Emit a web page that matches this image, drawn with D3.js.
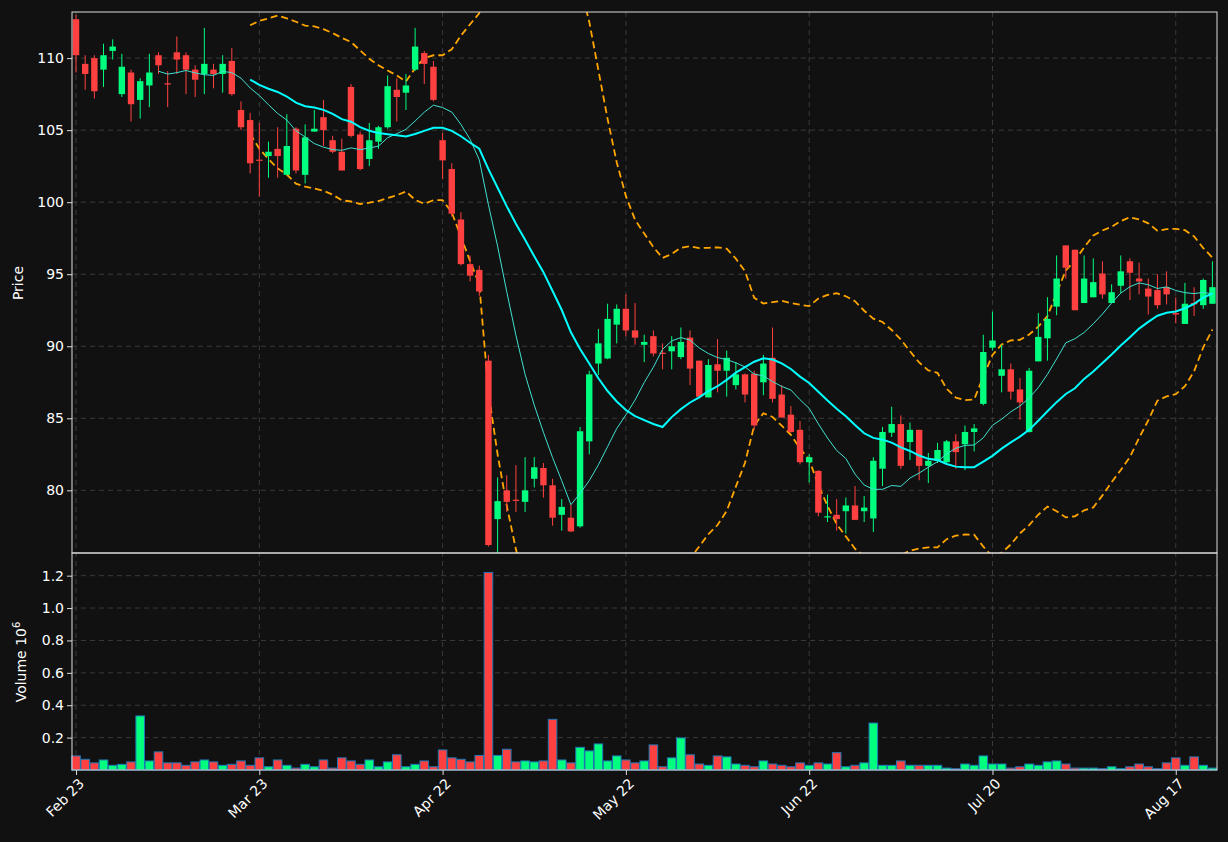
<!DOCTYPE html>
<html><head><meta charset="utf-8">
<script src="https://cdn.jsdelivr.net/npm/d3@7"></script>
<style>
body{margin:0;background:#111111;}
text{font-family:"DejaVu Sans",sans-serif;}
</style></head>
<body><svg id="chart" width="1228" height="842"></svg>
<script>
// OHLC, one row per trading day
var opens  = [112.7,109.6,110,109.2,110.5,107.5,109,107.1,108.1,110.2,108.25,110.4,110.2,109.2,108.9,109.2,108.9,109.8,106.4,105.7,
  102.95,103.2,103.7,101.9,105.1,101.9,104.9,105.9,104.3,103.5,108,104.7,103,104.2,105.2,107.8,107.6,109.2,110.35,109.4,
  104.3,102.3,98.8,95.7,95.3,89,78,80,79.35,79.2,80.8,81.55,80.35,78.3,78.1,77.5,83.4,88.8,89.15,91.5,
  92.6,91.1,90.1,90.7,89.55,89.65,89.25,90.6,89,86.45,88.75,88.3,87.3,88.05,88.1,87.5,89.2,86.65,85.25,84.2,
  81.95,81.35,78.15,78.3,78.55,78.95,78.55,78.05,81.5,84,84.6,83.35,84.2,81.7,82.05,81.95,83.4,83.2,84.05,86,
  89.9,87.95,88.4,87,84.05,88.95,90.55,92.75,97,96.7,93,93.4,95.05,93,94.2,95.9,94.7,94,93.9,94.1,
  92.3,91.55,93.0,92.85,92.95];
var highs  = [113,110.2,110.2,111,111.3,110.3,109.2,108.6,110.3,110.4,109.1,111.5,110.4,109.5,112.1,109.6,110.2,110.7,107,106.2,
  105.5,104.2,105.2,106.1,105.2,105.4,106.4,107.1,104.6,104.4,108.2,104.9,105.5,105.3,108.8,108.6,108.9,112.1,110.5,109.8,
  104.8,102.7,99.3,96.3,95.6,89.4,80.9,81.05,81.75,82.3,82.3,81.9,80.8,79.4,79,84.4,88.3,91.2,92.95,92.9,
  93.6,93,90.8,91.1,90.2,90.7,91.3,91.1,89,89.1,90.5,89.7,88.9,88.1,88.3,89.4,91.3,87.3,85.85,84.8,
  82.5,81.4,79.7,79.4,79.5,80.3,79.6,82.3,84.4,85.8,85.2,84.7,84.2,82.6,83.3,83.5,83.9,84.5,84.6,90.8,
  92.4,90.1,88.8,87.8,88.5,92.3,93.4,96.3,97,96.7,96.3,96.1,95.9,94.3,96.3,96.1,95.8,94.7,95,95.2,
  93.4,94.4,94.1,94.7,95.9];
var lows   = [109,107.8,107.2,108,109.9,107.3,105.6,105.8,106.6,108.9,106.6,108.9,107.5,107.3,107.5,107.9,107.6,107.4,105,102,
  100.4,101.7,101.7,101.9,102,101.3,104.9,103.9,103.4,102.2,104.5,102.2,102.5,103.7,105.1,105.6,106.4,109.1,108.2,107,
  101.6,99,95.6,94.5,93.5,76.1,75.4,78.5,78.5,78.5,80.2,79.5,77.55,77.2,77.1,77.4,82.5,88,89.1,90.2,
  90.7,90.1,88.9,89.3,88.4,88.4,89.1,87.3,86.5,86.45,86.8,86.5,87,86.1,84.2,86.6,86.1,85.05,84,81.8,
  80.55,78.2,77.8,77.2,77,77.95,77.8,77.1,80.3,83.7,81.5,82.1,80.7,80.5,81.9,81.9,81.5,81.4,82.7,85.9,
  89.7,86.8,86.3,84.9,84,88.95,89,92.15,94.7,92.5,93,93.4,93.3,93,93.7,93.2,93.6,92.2,92.6,92.9,
  91.6,91.55,92.1,92.6,92.95];
var closes = [110.2,108.9,107.7,110.2,110.8,109.4,106.8,108.4,109,109.5,108.2,109.9,109.2,108.5,109.6,108.9,109.6,107.5,105.2,102.7,
  102.9,103.5,103.2,103.9,102.2,104.5,105.1,105,103.5,102.2,104.6,102.3,104.3,105.2,108.05,107.3,108.1,110.8,109.6,107.1,
  102.9,99.2,95.7,94.9,93.8,76.2,79.25,79.2,79.3,80,81.6,80.35,78.1,78.85,77.15,84.1,88.05,90.2,91.9,92.6,
  91.1,90.6,90.3,89.5,89.5,90,90.3,88.45,86.5,88.7,88.3,89.2,88.05,86.65,84.5,88.8,86.35,85.05,84.05,81.95,
  82.3,78.45,78.2,78,78.95,77.95,78.8,82.05,84.05,84.6,81.7,84.2,81.7,82.05,82.8,83.4,82.65,84.05,84.3,89.6,
  90.4,88.4,86.85,86.1,88.3,90.65,91.9,94.7,95.45,92.5,94.7,94.45,93.6,93.75,95.2,95.1,94.5,93.45,92.85,93.6,
  92.2,92.95,92.95,94.6,94.1];
// volume in millions
var volumes = [0.087,0.066,0.044,0.062,0.029,0.035,0.05,0.334,0.056,0.112,0.044,0.044,0.029,0.05,0.062,0.05,0.029,0.035,0.056,0.029,
  0.075,0.02,0.062,0.029,0.012,0.035,0.02,0.062,0.012,0.075,0.056,0.035,0.062,0.02,0.05,0.094,0.02,0.035,0.056,0.02,
  0.124,0.075,0.066,0.05,0.09,1.22,0.09,0.128,0.05,0.056,0.05,0.056,0.313,0.062,0.044,0.14,0.118,0.161,0.056,0.087,
  0.062,0.044,0.056,0.155,0.02,0.075,0.198,0.094,0.037,0.029,0.087,0.081,0.037,0.029,0.02,0.056,0.037,0.029,0.02,0.044,
  0.029,0.044,0.037,0.107,0.02,0.029,0.044,0.29,0.029,0.029,0.056,0.029,0.029,0.029,0.029,0.012,0.008,0.037,0.029,0.087,
  0.037,0.037,0.012,0.02,0.037,0.029,0.05,0.056,0.037,0.012,0.012,0.012,0.008,0.02,0.008,0.02,0.037,0.02,0.008,0.044,
  0.075,0.029,0.081,0.029,0.012];
var tickIdx = [0,20,40,60,80,100,120];
var tickLabels = ["Feb 23","Mar 23","Apr 22","May 22","Jun 22","Jul 20","Aug 17"];
var priceTicks = [80,85,90,95,100,105,110];
var volTicks = [0.2,0.4,0.6,0.8,1.0,1.2];

var upCol = "#00ff7f", downCol = "#ff4040";
var n = closes.length;
var svg = d3.select("#chart");
svg.append("rect").attr("width",1228).attr("height",842).attr("fill","#111111");

var L = 72, R = 1217, pTop = 12, pBot = 553, vBot = 770;
var x = d3.scaleLinear().domain([-0.44, n - 0.5]).range([L, R]);
var y = d3.scaleLinear().domain([75.65, 113.2]).range([pBot, pTop]);
var yv = d3.scaleLinear().domain([0, 1.34]).range([vBot, pBot]);

function isUp(i){ return closes[i] > opens[i] || (closes[i] == opens[i] && [82].indexOf(i) >= 0); }

// grid
var grid = svg.append("g").attr("stroke","#3a3a3a").attr("stroke-dasharray","5,4").attr("stroke-width",1);
tickIdx.forEach(function(t){
  grid.append("line").attr("x1",x(t)).attr("x2",x(t)).attr("y1",pTop).attr("y2",vBot);
});
priceTicks.forEach(function(t){
  grid.append("line").attr("x1",L).attr("x2",R).attr("y1",y(t)).attr("y2",y(t));
});
volTicks.forEach(function(t){
  grid.append("line").attr("x1",L).attr("x2",R).attr("y1",yv(t)).attr("y2",yv(t));
});

svg.append("clipPath").attr("id","pc").append("rect").attr("x",L).attr("y",pTop).attr("width",R-L).attr("height",pBot-pTop);
var pg = svg.append("g").attr("clip-path","url(#pc)");

// moving averages and bands
function sma(p, i){ return d3.mean(closes.slice(i-p+1, i+1)); }
var ma10 = [], ma20 = [], bu = [], bl = [];
for (var i = 0; i < n; i++) {
  if (i >= 9) ma10.push([i, sma(10,i)]);
  if (i >= 19) {
    var m = sma(20,i), s = d3.deviation(closes.slice(i-19,i+1));
    ma20.push([i,m]); bu.push([i,m+2*s]); bl.push([i,m-2*s]);
  }
}
var line = d3.line().x(function(d){return x(d[0]);}).y(function(d){return y(d[1]);});
[bu, bl].forEach(function(b){
  pg.append("path").attr("d",line(b)).attr("fill","none").attr("stroke","#ffa500").attr("stroke-width",1.8).attr("stroke-dasharray","7,4");
});

// candles
var cg = pg.append("g");
d3.range(n).forEach(function(i){
  var c = isUp(i) ? upCol : downCol;
  cg.append("line").attr("x1",x(i)).attr("x2",x(i)).attr("y1",y(highs[i])).attr("y2",y(lows[i])).attr("stroke",c).attr("stroke-width",1);
  var top = y(Math.max(opens[i],closes[i])), bot = y(Math.min(opens[i],closes[i]));
  cg.append("rect").attr("x",x(i)-3.2).attr("width",6.4).attr("y",top).attr("height",Math.max(1.2,bot-top)).attr("fill",c);
});

pg.append("path").attr("d",line(ma10)).attr("fill","none").attr("stroke","#40e0d0").attr("stroke-width",1);
pg.append("path").attr("d",line(ma20)).attr("fill","none").attr("stroke","#00ffff").attr("stroke-width",2);

// volume
svg.append("g").selectAll("rect").data(volumes).join("rect")
  .attr("x",function(d,i){return x(i)-4.3;}).attr("width",8.6)
  .attr("y",function(d){return yv(d);}).attr("height",function(d){return vBot-yv(d);})
  .attr("fill",function(d,i){return isUp(i)?upCol:downCol;})
  .attr("stroke","#1f77b4").attr("stroke-width",1);

// frames
svg.append("rect").attr("x",L).attr("y",pTop).attr("width",R-L).attr("height",pBot-pTop).attr("fill","none").attr("stroke","#dddddd");
svg.append("rect").attr("x",L).attr("y",pBot).attr("width",R-L).attr("height",vBot-pBot).attr("fill","none").attr("stroke","#dddddd");

// axes
var ax = svg.append("g").attr("transform","translate(0,"+vBot+")")
  .call(d3.axisBottom(x).tickValues(tickIdx).tickFormat(function(d,i){return tickLabels[i];}).tickSize(5));
ax.selectAll("text").attr("transform","rotate(-45)").attr("text-anchor","end").attr("dx","-0.3em").attr("dy","0.6em");
var ay = svg.append("g").attr("transform","translate("+L+",0)").call(d3.axisLeft(y).tickValues(priceTicks).tickSize(5));
var ayv = svg.append("g").attr("transform","translate("+L+",0)").call(d3.axisLeft(yv).tickValues(volTicks).tickFormat(d3.format(".1f")).tickSize(5));
[ax, ay, ayv].forEach(function(a){
  a.select(".domain").remove();
  a.selectAll("line").attr("stroke","#dddddd");
  a.selectAll("text").attr("fill","#ffffff").style("font-size","14px");
});

svg.append("text").attr("transform","translate(23,283) rotate(-90)").attr("text-anchor","middle")
  .attr("fill","#fff").style("font-size","14px").text("Price");
var vl = svg.append("text").attr("transform","translate(26,662) rotate(-90)").attr("text-anchor","middle")
  .attr("fill","#fff").style("font-size","14px");
vl.append("tspan").text("Volume  10");
vl.append("tspan").attr("dy","-6").style("font-size","10px").text("6");
</script></body></html>
